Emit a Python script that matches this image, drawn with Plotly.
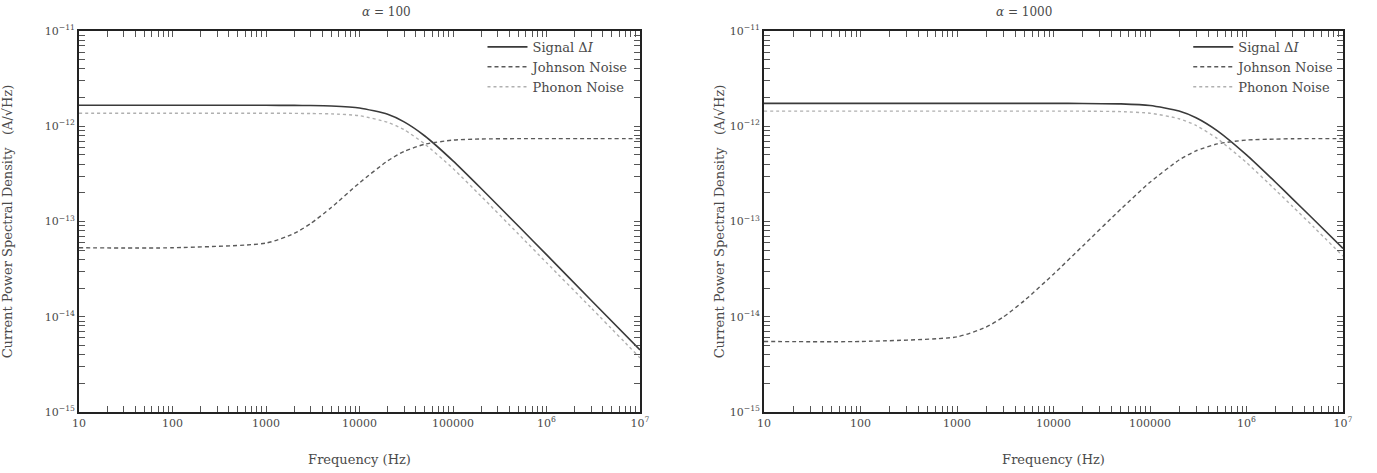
import plotly.graph_objects as go

# ---- data ----
freq_l = [10, 100, 1000, 2000, 3000, 5000, 10000, 20000, 30000, 50000, 100000, 200000, 500000, 1000000, 3000000, 10000000]
signal_l = [1.66e-12, 1.66e-12, 1.66e-12, 1.655e-12, 1.65e-12, 1.632e-12, 1.557e-12, 1.334e-12, 1.111e-12, 7.9e-13, 4.33e-13, 2.22e-13, 8.96e-14, 4.49e-14, 1.49e-14, 4.48e-15]
johnson_l = [5.3e-14, 5.3e-14, 5.93e-14, 7.48e-14, 9.5e-14, 1.405e-13, 2.545e-13, 4.33e-13, 5.44e-13, 6.48e-13, 7.15e-13, 7.35e-13, 7.41e-13, 7.42e-13, 7.42e-13, 7.42e-13]
phonon_l = [1.37e-12, 1.37e-12, 1.37e-12, 1.366e-12, 1.36e-12, 1.35e-12, 1.29e-12, 1.10e-12, 9.2e-13, 6.5e-13, 3.6e-13, 1.84e-13, 7.4e-14, 3.7e-14, 1.24e-14, 3.7e-15]

freq_r = [10, 100, 1000, 2000, 3000, 5000, 10000, 20000, 50000, 100000, 200000, 300000, 500000, 1000000, 2000000, 3000000, 5000000, 10000000]
signal_r = [1.74e-12, 1.74e-12, 1.74e-12, 1.74e-12, 1.74e-12, 1.74e-12, 1.739e-12, 1.736e-12, 1.716e-12, 1.651e-12, 1.448e-12, 1.23e-12, 8.95e-13, 5.0e-13, 2.58e-13, 1.73e-13, 1.043e-13, 5.22e-14]
johnson_r = [5.5e-15, 5.5e-15, 6.15e-15, 7.78e-15, 9.9e-15, 1.48e-14, 2.80e-14, 5.51e-14, 1.353e-13, 2.58e-13, 4.42e-13, 5.52e-13, 6.53e-13, 7.17e-13, 7.33e-13, 7.4e-13, 7.41e-13, 7.42e-13]
phonon_r = [1.44e-12, 1.44e-12, 1.44e-12, 1.44e-12, 1.44e-12, 1.44e-12, 1.443e-12, 1.44e-12, 1.424e-12, 1.37e-12, 1.20e-12, 1.02e-12, 7.4e-13, 4.15e-13, 2.14e-13, 1.44e-13, 8.7e-14, 4.33e-14]

titles = ["α = 100", "α = 1000"]
x_tickvals = [10, 100, 1000, 10000, 100000, 1000000, 10000000]
x_ticktext = ["10", "100", "1000", "10000", "100000", "10<sup>6</sup>", "10<sup>7</sup>"]
y_tickvals = [1e-15, 1e-14, 1e-13, 1e-12, 1e-11]
y_ticktext = ["10<sup>−15</sup>", "10<sup>−14</sup>", "10<sup>−13</sup>", "10<sup>−12</sup>", "10<sup>−11</sup>"]
names = ["Signal Δ<i>I</i>", "Johnson Noise", "Phonon Noise"]

x_minor = [m * 10 ** e for e in range(1, 7) for m in range(2, 10)]
y_minor = [m * 10.0 ** e for e in range(-15, -11) for m in range(2, 10)]

FONT = "DejaVu Serif"
TXT = "#4a4a4a"
fig = go.Figure()

panels = [
    (freq_l, signal_l, johnson_l, phonon_l, "x", "y", "legend"),
    (freq_r, signal_r, johnson_r, phonon_r, "x2", "y2", "legend2"),
]
styles = [
    dict(color="#3a3a3a", width=1.6, dash="solid"),
    dict(color="#5a5a5a", width=1.4, dash="4px,3px"),
    dict(color="#b0b0b0", width=1.4, dash="dot"),
]
for f, s, j, p, xa, ya, lg in panels:
    for name, ys, st in zip(names, [s, j, p], styles):
        fig.add_trace(go.Scatter(x=f, y=ys, mode="lines", name=name, line=dict(shape="spline", smoothing=0.6, **st),
                                 xaxis=xa, yaxis=ya, legend=lg))

dom_x = [[79/1377, 640/1377], [764/1377, 1343/1377]]
dom_y = [1 - 412/473, 1 - 31/473]

def axis_common(major_vals, major_text, minor_vals):
    return dict(showgrid=False, zeroline=False, showline=True, linecolor="#222", linewidth=1.6,
                mirror="allticks", ticks="inside", ticklen=6, tickcolor="#555", tickwidth=1, automargin=False,
                tickmode="array", tickvals=list(major_vals) + list(minor_vals),
                ticktext=list(major_text) + [""] * len(minor_vals),
                tickfont=dict(family=FONT, size=11, color=TXT))

layout = dict(width=1377, height=473, margin=dict(l=0, r=0, t=0, b=0),
              paper_bgcolor="white", plot_bgcolor="white", showlegend=True,
              font=dict(family=FONT, color=TXT))
ystand = [36, 2]
for i, (xa, ya) in enumerate([("xaxis", "yaxis"), ("xaxis2", "yaxis2")]):
    layout[xa] = dict(type="log", domain=dom_x[i], range=[1, 7],
                      title=dict(text="Frequency (Hz)", font=dict(family=FONT, size=13, color=TXT), standoff=26),
                      anchor="y" if i == 0 else "y2", **axis_common(x_tickvals, x_ticktext, x_minor))
    layout[ya] = dict(type="log", domain=dom_y, range=[-15, -11],
                      title=dict(text="Current Power Spectral Density   (A/√Hz)", font=dict(family=FONT, size=13, color=TXT), standoff=ystand[i]),
                      anchor="x" if i == 0 else "x2", **axis_common(y_tickvals, y_ticktext, y_minor))

leg_common = dict(bgcolor="rgba(0,0,0,0)", borderwidth=0, font=dict(family=FONT, size=13, color=TXT),
                  yanchor="top", xanchor="right", tracegroupgap=0, itemwidth=40)
layout["legend"] = dict(x=dom_x[0][1] - 0.004, y=dom_y[1] - 0.002, **leg_common)
layout["legend2"] = dict(x=dom_x[1][1] - 0.002, y=dom_y[1] - 0.002, **leg_common)

fig.update_layout(**layout)

for i, t in enumerate(titles):
    fig.add_annotation(text=t.replace("α", "<i>α</i>"), x=(dom_x[i][0] + dom_x[i][1]) / 2, y=1 - 3/473,
                       xref="paper", yref="paper", showarrow=False, yanchor="top",
                       font=dict(family=FONT, size=12, color=TXT))

fig.write_html("out.html")
